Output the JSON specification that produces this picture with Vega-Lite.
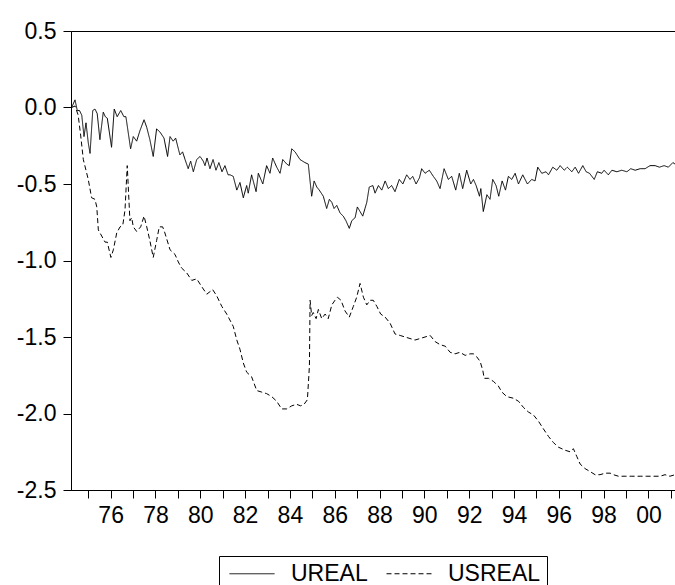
{
  "$schema": "https://vega.github.io/schema/vega-lite/v6.json",
  "width": 605,
  "height": 459,
  "autosize": "none",
  "padding": {"left": 71, "top": 31, "right": 0, "bottom": 95},
  "background": "white",
  "config": {"view": {"stroke": "black", "strokeWidth": 1}, "font": "Liberation Sans"},
  "data": {"values": [
    {"s":"UREAL","t":1974.26,"v":0.00},{"s":"UREAL","t":1974.41,"v":0.05},{"s":"UREAL","t":1974.51,"v":-0.02},{"s":"UREAL","t":1974.61,"v":-0.02},{"s":"UREAL","t":1974.71,"v":-0.05},{"s":"UREAL","t":1974.81,"v":-0.19},{"s":"UREAL","t":1974.90,"v":-0.10},{"s":"UREAL","t":1975.00,"v":-0.23},{"s":"UREAL","t":1975.08,"v":-0.30},{"s":"UREAL","t":1975.20,"v":-0.02},{"s":"UREAL","t":1975.30,"v":-0.01},{"s":"UREAL","t":1975.40,"v":-0.04},{"s":"UREAL","t":1975.52,"v":-0.21},{"s":"UREAL","t":1975.67,"v":-0.03},{"s":"UREAL","t":1975.76,"v":-0.06},{"s":"UREAL","t":1975.85,"v":-0.07},{"s":"UREAL","t":1976.04,"v":-0.26},{"s":"UREAL","t":1976.16,"v":-0.01},{"s":"UREAL","t":1976.29,"v":-0.06},{"s":"UREAL","t":1976.45,"v":-0.02},{"s":"UREAL","t":1976.59,"v":-0.06},{"s":"UREAL","t":1976.68,"v":-0.06},{"s":"UREAL","t":1976.89,"v":-0.27},{"s":"UREAL","t":1977.01,"v":-0.19},{"s":"UREAL","t":1977.16,"v":-0.22},{"s":"UREAL","t":1977.31,"v":-0.15},{"s":"UREAL","t":1977.49,"v":-0.08},{"s":"UREAL","t":1977.61,"v":-0.13},{"s":"UREAL","t":1977.75,"v":-0.21},{"s":"UREAL","t":1977.90,"v":-0.32},{"s":"UREAL","t":1978.05,"v":-0.14},{"s":"UREAL","t":1978.20,"v":-0.16},{"s":"UREAL","t":1978.38,"v":-0.20},{"s":"UREAL","t":1978.54,"v":-0.32},{"s":"UREAL","t":1978.65,"v":-0.19},{"s":"UREAL","t":1978.79,"v":-0.22},{"s":"UREAL","t":1978.90,"v":-0.20},{"s":"UREAL","t":1979.09,"v":-0.31},{"s":"UREAL","t":1979.21,"v":-0.29},{"s":"UREAL","t":1979.32,"v":-0.34},{"s":"UREAL","t":1979.46,"v":-0.40},{"s":"UREAL","t":1979.57,"v":-0.35},{"s":"UREAL","t":1979.69,"v":-0.42},{"s":"UREAL","t":1979.84,"v":-0.34},{"s":"UREAL","t":1979.99,"v":-0.32},{"s":"UREAL","t":1980.13,"v":-0.35},{"s":"UREAL","t":1980.21,"v":-0.38},{"s":"UREAL","t":1980.30,"v":-0.33},{"s":"UREAL","t":1980.43,"v":-0.40},{"s":"UREAL","t":1980.57,"v":-0.34},{"s":"UREAL","t":1980.70,"v":-0.41},{"s":"UREAL","t":1980.83,"v":-0.36},{"s":"UREAL","t":1980.97,"v":-0.42},{"s":"UREAL","t":1981.10,"v":-0.38},{"s":"UREAL","t":1981.24,"v":-0.44},{"s":"UREAL","t":1981.33,"v":-0.44},{"s":"UREAL","t":1981.47,"v":-0.45},{"s":"UREAL","t":1981.63,"v":-0.54},{"s":"UREAL","t":1981.77,"v":-0.49},{"s":"UREAL","t":1981.92,"v":-0.59},{"s":"UREAL","t":1982.07,"v":-0.51},{"s":"UREAL","t":1982.14,"v":-0.56},{"s":"UREAL","t":1982.29,"v":-0.44},{"s":"UREAL","t":1982.49,"v":-0.55},{"s":"UREAL","t":1982.59,"v":-0.43},{"s":"UREAL","t":1982.79,"v":-0.50},{"s":"UREAL","t":1982.96,"v":-0.38},{"s":"UREAL","t":1983.11,"v":-0.43},{"s":"UREAL","t":1983.23,"v":-0.33},{"s":"UREAL","t":1983.41,"v":-0.39},{"s":"UREAL","t":1983.56,"v":-0.43},{"s":"UREAL","t":1983.68,"v":-0.34},{"s":"UREAL","t":1983.86,"v":-0.37},{"s":"UREAL","t":1983.97,"v":-0.38},{"s":"UREAL","t":1984.08,"v":-0.27},{"s":"UREAL","t":1984.23,"v":-0.29},{"s":"UREAL","t":1984.45,"v":-0.34},{"s":"UREAL","t":1984.67,"v":-0.36},{"s":"UREAL","t":1984.82,"v":-0.37},{"s":"UREAL","t":1984.97,"v":-0.58},{"s":"UREAL","t":1985.08,"v":-0.48},{"s":"UREAL","t":1985.20,"v":-0.52},{"s":"UREAL","t":1985.31,"v":-0.54},{"s":"UREAL","t":1985.49,"v":-0.58},{"s":"UREAL","t":1985.64,"v":-0.66},{"s":"UREAL","t":1985.76,"v":-0.60},{"s":"UREAL","t":1985.87,"v":-0.62},{"s":"UREAL","t":1985.97,"v":-0.66},{"s":"UREAL","t":1986.09,"v":-0.64},{"s":"UREAL","t":1986.24,"v":-0.69},{"s":"UREAL","t":1986.38,"v":-0.71},{"s":"UREAL","t":1986.50,"v":-0.74},{"s":"UREAL","t":1986.65,"v":-0.79},{"s":"UREAL","t":1986.76,"v":-0.74},{"s":"UREAL","t":1986.91,"v":-0.72},{"s":"UREAL","t":1987.01,"v":-0.65},{"s":"UREAL","t":1987.13,"v":-0.68},{"s":"UREAL","t":1987.25,"v":-0.71},{"s":"UREAL","t":1987.35,"v":-0.66},{"s":"UREAL","t":1987.43,"v":-0.62},{"s":"UREAL","t":1987.54,"v":-0.52},{"s":"UREAL","t":1987.70,"v":-0.51},{"s":"UREAL","t":1987.80,"v":-0.56},{"s":"UREAL","t":1987.95,"v":-0.51},{"s":"UREAL","t":1988.10,"v":-0.54},{"s":"UREAL","t":1988.25,"v":-0.48},{"s":"UREAL","t":1988.39,"v":-0.53},{"s":"UREAL","t":1988.54,"v":-0.51},{"s":"UREAL","t":1988.69,"v":-0.55},{"s":"UREAL","t":1988.88,"v":-0.47},{"s":"UREAL","t":1989.04,"v":-0.50},{"s":"UREAL","t":1989.21,"v":-0.44},{"s":"UREAL","t":1989.36,"v":-0.47},{"s":"UREAL","t":1989.48,"v":-0.45},{"s":"UREAL","t":1989.63,"v":-0.50},{"s":"UREAL","t":1989.78,"v":-0.46},{"s":"UREAL","t":1989.88,"v":-0.40},{"s":"UREAL","t":1990.03,"v":-0.43},{"s":"UREAL","t":1990.22,"v":-0.41},{"s":"UREAL","t":1990.40,"v":-0.45},{"s":"UREAL","t":1990.55,"v":-0.48},{"s":"UREAL","t":1990.70,"v":-0.53},{"s":"UREAL","t":1990.88,"v":-0.40},{"s":"UREAL","t":1991.07,"v":-0.47},{"s":"UREAL","t":1991.22,"v":-0.45},{"s":"UREAL","t":1991.40,"v":-0.54},{"s":"UREAL","t":1991.56,"v":-0.43},{"s":"UREAL","t":1991.71,"v":-0.53},{"s":"UREAL","t":1991.89,"v":-0.41},{"s":"UREAL","t":1992.07,"v":-0.50},{"s":"UREAL","t":1992.19,"v":-0.47},{"s":"UREAL","t":1992.31,"v":-0.51},{"s":"UREAL","t":1992.46,"v":-0.58},{"s":"UREAL","t":1992.52,"v":-0.53},{"s":"UREAL","t":1992.63,"v":-0.68},{"s":"UREAL","t":1992.79,"v":-0.57},{"s":"UREAL","t":1992.93,"v":-0.60},{"s":"UREAL","t":1993.05,"v":-0.47},{"s":"UREAL","t":1993.20,"v":-0.51},{"s":"UREAL","t":1993.32,"v":-0.58},{"s":"UREAL","t":1993.47,"v":-0.48},{"s":"UREAL","t":1993.62,"v":-0.54},{"s":"UREAL","t":1993.75,"v":-0.45},{"s":"UREAL","t":1993.90,"v":-0.47},{"s":"UREAL","t":1994.05,"v":-0.43},{"s":"UREAL","t":1994.20,"v":-0.50},{"s":"UREAL","t":1994.39,"v":-0.44},{"s":"UREAL","t":1994.60,"v":-0.50},{"s":"UREAL","t":1994.79,"v":-0.47},{"s":"UREAL","t":1994.94,"v":-0.48},{"s":"UREAL","t":1995.06,"v":-0.39},{"s":"UREAL","t":1995.24,"v":-0.43},{"s":"UREAL","t":1995.43,"v":-0.42},{"s":"UREAL","t":1995.54,"v":-0.44},{"s":"UREAL","t":1995.73,"v":-0.39},{"s":"UREAL","t":1995.91,"v":-0.41},{"s":"UREAL","t":1996.06,"v":-0.38},{"s":"UREAL","t":1996.24,"v":-0.41},{"s":"UREAL","t":1996.38,"v":-0.39},{"s":"UREAL","t":1996.58,"v":-0.42},{"s":"UREAL","t":1996.73,"v":-0.39},{"s":"UREAL","t":1996.88,"v":-0.43},{"s":"UREAL","t":1997.07,"v":-0.38},{"s":"UREAL","t":1997.22,"v":-0.42},{"s":"UREAL","t":1997.37,"v":-0.43},{"s":"UREAL","t":1997.58,"v":-0.47},{"s":"UREAL","t":1997.72,"v":-0.42},{"s":"UREAL","t":1997.92,"v":-0.43},{"s":"UREAL","t":1998.02,"v":-0.41},{"s":"UREAL","t":1998.21,"v":-0.44},{"s":"UREAL","t":1998.37,"v":-0.41},{"s":"UREAL","t":1998.59,"v":-0.42},{"s":"UREAL","t":1998.81,"v":-0.41},{"s":"UREAL","t":1999.04,"v":-0.42},{"s":"UREAL","t":1999.21,"v":-0.40},{"s":"UREAL","t":1999.41,"v":-0.41},{"s":"UREAL","t":1999.63,"v":-0.40},{"s":"UREAL","t":1999.85,"v":-0.40},{"s":"UREAL","t":2000.07,"v":-0.38},{"s":"UREAL","t":2000.30,"v":-0.38},{"s":"UREAL","t":2000.49,"v":-0.39},{"s":"UREAL","t":2000.70,"v":-0.38},{"s":"UREAL","t":2000.89,"v":-0.39},{"s":"UREAL","t":2001.09,"v":-0.36},{"s":"UREAL","t":2001.19,"v":-0.37},
    {"s":"USREAL","t":1974.26,"v":0.00},{"s":"USREAL","t":1974.41,"v":0.01},{"s":"USREAL","t":1974.55,"v":-0.05},{"s":"USREAL","t":1974.66,"v":-0.18},{"s":"USREAL","t":1974.78,"v":-0.34},{"s":"USREAL","t":1975.00,"v":-0.47},{"s":"USREAL","t":1975.15,"v":-0.59},{"s":"USREAL","t":1975.30,"v":-0.60},{"s":"USREAL","t":1975.38,"v":-0.65},{"s":"USREAL","t":1975.45,"v":-0.80},{"s":"USREAL","t":1975.60,"v":-0.84},{"s":"USREAL","t":1975.75,"v":-0.88},{"s":"USREAL","t":1975.85,"v":-0.88},{"s":"USREAL","t":1976.01,"v":-0.98},{"s":"USREAL","t":1976.12,"v":-0.93},{"s":"USREAL","t":1976.27,"v":-0.82},{"s":"USREAL","t":1976.42,"v":-0.78},{"s":"USREAL","t":1976.54,"v":-0.77},{"s":"USREAL","t":1976.64,"v":-0.67},{"s":"USREAL","t":1976.74,"v":-0.38},{"s":"USREAL","t":1976.86,"v":-0.74},{"s":"USREAL","t":1976.94,"v":-0.72},{"s":"USREAL","t":1977.01,"v":-0.78},{"s":"USREAL","t":1977.16,"v":-0.81},{"s":"USREAL","t":1977.34,"v":-0.78},{"s":"USREAL","t":1977.49,"v":-0.71},{"s":"USREAL","t":1977.61,"v":-0.78},{"s":"USREAL","t":1977.75,"v":-0.87},{"s":"USREAL","t":1977.90,"v":-0.98},{"s":"USREAL","t":1978.05,"v":-0.87},{"s":"USREAL","t":1978.17,"v":-0.78},{"s":"USREAL","t":1978.32,"v":-0.78},{"s":"USREAL","t":1978.42,"v":-0.82},{"s":"USREAL","t":1978.65,"v":-0.93},{"s":"USREAL","t":1978.87,"v":-0.96},{"s":"USREAL","t":1979.02,"v":-1.01},{"s":"USREAL","t":1979.17,"v":-1.05},{"s":"USREAL","t":1979.39,"v":-1.08},{"s":"USREAL","t":1979.62,"v":-1.13},{"s":"USREAL","t":1979.84,"v":-1.12},{"s":"USREAL","t":1980.06,"v":-1.17},{"s":"USREAL","t":1980.29,"v":-1.22},{"s":"USREAL","t":1980.55,"v":-1.19},{"s":"USREAL","t":1980.73,"v":-1.23},{"s":"USREAL","t":1980.96,"v":-1.30},{"s":"USREAL","t":1981.18,"v":-1.35},{"s":"USREAL","t":1981.47,"v":-1.43},{"s":"USREAL","t":1981.63,"v":-1.52},{"s":"USREAL","t":1981.77,"v":-1.58},{"s":"USREAL","t":1981.92,"v":-1.67},{"s":"USREAL","t":1982.07,"v":-1.73},{"s":"USREAL","t":1982.29,"v":-1.76},{"s":"USREAL","t":1982.52,"v":-1.85},{"s":"USREAL","t":1982.74,"v":-1.86},{"s":"USREAL","t":1982.96,"v":-1.87},{"s":"USREAL","t":1983.19,"v":-1.89},{"s":"USREAL","t":1983.41,"v":-1.92},{"s":"USREAL","t":1983.63,"v":-1.97},{"s":"USREAL","t":1983.86,"v":-1.97},{"s":"USREAL","t":1984.08,"v":-1.95},{"s":"USREAL","t":1984.30,"v":-1.94},{"s":"USREAL","t":1984.48,"v":-1.95},{"s":"USREAL","t":1984.63,"v":-1.94},{"s":"USREAL","t":1984.78,"v":-1.91},{"s":"USREAL","t":1984.87,"v":-1.69},{"s":"USREAL","t":1984.90,"v":-1.26},{"s":"USREAL","t":1984.97,"v":-1.36},{"s":"USREAL","t":1985.04,"v":-1.34},{"s":"USREAL","t":1985.17,"v":-1.38},{"s":"USREAL","t":1985.27,"v":-1.32},{"s":"USREAL","t":1985.42,"v":-1.38},{"s":"USREAL","t":1985.57,"v":-1.35},{"s":"USREAL","t":1985.71,"v":-1.38},{"s":"USREAL","t":1985.87,"v":-1.29},{"s":"USREAL","t":1986.01,"v":-1.26},{"s":"USREAL","t":1986.12,"v":-1.24},{"s":"USREAL","t":1986.28,"v":-1.26},{"s":"USREAL","t":1986.46,"v":-1.33},{"s":"USREAL","t":1986.65,"v":-1.37},{"s":"USREAL","t":1986.83,"v":-1.30},{"s":"USREAL","t":1986.98,"v":-1.24},{"s":"USREAL","t":1987.13,"v":-1.15},{"s":"USREAL","t":1987.28,"v":-1.24},{"s":"USREAL","t":1987.43,"v":-1.29},{"s":"USREAL","t":1987.58,"v":-1.26},{"s":"USREAL","t":1987.72,"v":-1.26},{"s":"USREAL","t":1987.88,"v":-1.30},{"s":"USREAL","t":1988.05,"v":-1.35},{"s":"USREAL","t":1988.25,"v":-1.37},{"s":"USREAL","t":1988.47,"v":-1.41},{"s":"USREAL","t":1988.69,"v":-1.48},{"s":"USREAL","t":1988.92,"v":-1.49},{"s":"USREAL","t":1989.14,"v":-1.50},{"s":"USREAL","t":1989.36,"v":-1.51},{"s":"USREAL","t":1989.58,"v":-1.52},{"s":"USREAL","t":1989.81,"v":-1.51},{"s":"USREAL","t":1990.03,"v":-1.50},{"s":"USREAL","t":1990.26,"v":-1.49},{"s":"USREAL","t":1990.48,"v":-1.53},{"s":"USREAL","t":1990.70,"v":-1.55},{"s":"USREAL","t":1990.93,"v":-1.56},{"s":"USREAL","t":1991.15,"v":-1.60},{"s":"USREAL","t":1991.37,"v":-1.61},{"s":"USREAL","t":1991.59,"v":-1.60},{"s":"USREAL","t":1991.82,"v":-1.62},{"s":"USREAL","t":1992.04,"v":-1.61},{"s":"USREAL","t":1992.19,"v":-1.61},{"s":"USREAL","t":1992.34,"v":-1.63},{"s":"USREAL","t":1992.49,"v":-1.66},{"s":"USREAL","t":1992.61,"v":-1.72},{"s":"USREAL","t":1992.67,"v":-1.77},{"s":"USREAL","t":1992.86,"v":-1.77},{"s":"USREAL","t":1993.08,"v":-1.79},{"s":"USREAL","t":1993.30,"v":-1.82},{"s":"USREAL","t":1993.46,"v":-1.86},{"s":"USREAL","t":1993.68,"v":-1.89},{"s":"USREAL","t":1993.97,"v":-1.90},{"s":"USREAL","t":1994.20,"v":-1.92},{"s":"USREAL","t":1994.42,"v":-1.96},{"s":"USREAL","t":1994.64,"v":-1.99},{"s":"USREAL","t":1994.87,"v":-2.01},{"s":"USREAL","t":1995.09,"v":-2.05},{"s":"USREAL","t":1995.31,"v":-2.10},{"s":"USREAL","t":1995.54,"v":-2.15},{"s":"USREAL","t":1995.76,"v":-2.19},{"s":"USREAL","t":1995.98,"v":-2.22},{"s":"USREAL","t":1996.28,"v":-2.24},{"s":"USREAL","t":1996.50,"v":-2.25},{"s":"USREAL","t":1996.65,"v":-2.23},{"s":"USREAL","t":1996.80,"v":-2.28},{"s":"USREAL","t":1996.95,"v":-2.33},{"s":"USREAL","t":1997.17,"v":-2.36},{"s":"USREAL","t":1997.40,"v":-2.38},{"s":"USREAL","t":1997.62,"v":-2.40},{"s":"USREAL","t":1997.84,"v":-2.40},{"s":"USREAL","t":1998.07,"v":-2.39},{"s":"USREAL","t":1998.29,"v":-2.39},{"s":"USREAL","t":1998.44,"v":-2.40},{"s":"USREAL","t":1998.66,"v":-2.41},{"s":"USREAL","t":1998.96,"v":-2.41},{"s":"USREAL","t":1999.26,"v":-2.41},{"s":"USREAL","t":1999.63,"v":-2.41},{"s":"USREAL","t":1999.93,"v":-2.41},{"s":"USREAL","t":2000.22,"v":-2.41},{"s":"USREAL","t":2000.52,"v":-2.41},{"s":"USREAL","t":2000.74,"v":-2.40},{"s":"USREAL","t":2000.96,"v":-2.41},{"s":"USREAL","t":2001.19,"v":-2.40}
  ]},
  "mark": {"type": "line", "strokeWidth": 1, "color": "black"},
  "encoding": {
    "x": {
      "field": "t", "type": "quantitative",
      "scale": {"domain": [1974.23, 2001.23], "nice": false, "zero": false},
      "axis": {
        "title": null, "grid": false,
        "values": [1975,1976,1977,1978,1979,1980,1981,1982,1983,1984,1985,1986,1987,1988,1989,1990,1991,1992,1993,1994,1995,1996,1997,1998,1999,2000,2001],
        "labelExpr": "datum.value % 2 == 0 ? format(datum.value % 100, '02d') : ''",
        "tickSize": 8, "tickColor": "black", "domainColor": "black",
        "labelFontSize": 23, "labelColor": "black", "labelPadding": 6, "labelFlush": false, "labelOverlap": false,
        "labelFont": "Liberation Sans"
      }
    },
    "y": {
      "field": "v", "type": "quantitative",
      "scale": {"domain": [-2.5, 0.5], "nice": false, "zero": false},
      "axis": {
        "title": null, "grid": false,
        "values": [-2.5, -2, -1.5, -1, -0.5, 0, 0.5],
        "labelExpr": "replace(format(datum.value, '.1f'), '\u2212', '-')",
        "tickSize": 8, "tickColor": "black", "domainColor": "black",
        "labelFontSize": 23, "labelColor": "black", "labelPadding": 7, "labelFlush": false, "labelOverlap": false,
        "labelFont": "Liberation Sans"
      }
    },
    "strokeDash": {
      "field": "s", "type": "nominal",
      "scale": {"domain": ["UREAL", "USREAL"], "range": [[1, 0], [5, 3]]},
      "legend": {
        "title": null, "orient": "none", "legendX": 148, "legendY": 525,
        "direction": "horizontal", "columns": 2,
        "symbolType": "M-1,0H5.43", "symbolSize": 196, "symbolStrokeColor": "black", "symbolStrokeWidth": 1,
        "labelFontSize": 23, "labelColor": "black", "labelFont": "Liberation Sans",
        "labelOffset": 43, "columnPadding": 14, "padding": 6,
        "strokeColor": "black", "fillColor": "white"
      }
    }
  }
}
